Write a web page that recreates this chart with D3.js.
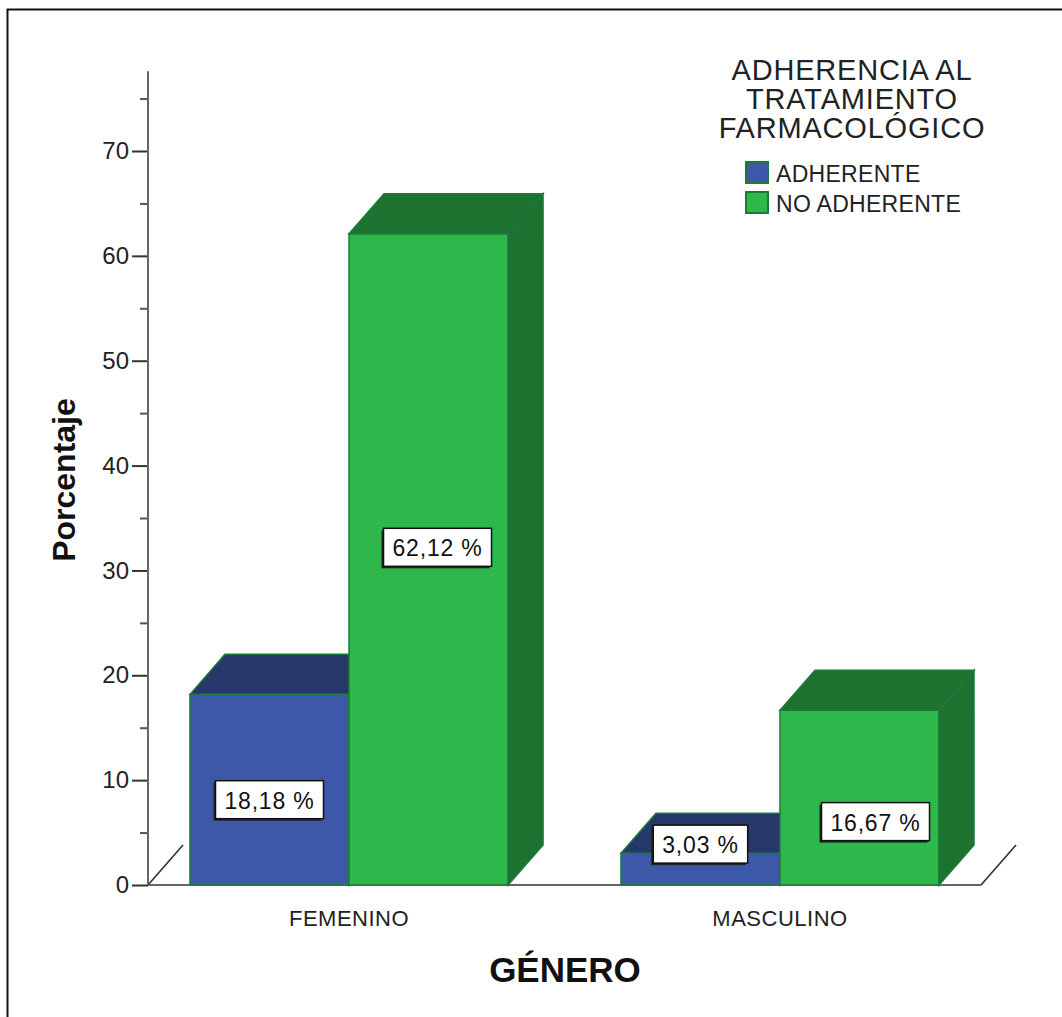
<!DOCTYPE html>
<html>
<head>
<meta charset="utf-8">
<script src="https://cdn.jsdelivr.net/npm/d3@7"></script>
<style>
  html, body { margin: 0; padding: 0; background: #fff; }
  svg { display: block; }
  text { font-family: "Liberation Sans", Arial, sans-serif; }
</style>
</head>
<body>
<svg id="chart" width="1062" height="1017"></svg>
<script>
// Data: percentage of patients by gender and adherence to pharmacological treatment
const categories = ["FEMENINO", "MASCULINO"];
const series = ["ADHERENTE", "NO ADHERENTE"];
const adherente = [18.18, 3.03];
const noAdherente = [62.12, 16.67];
const yTicks = [0, 10, 20, 30, 40, 50, 60, 70];
const yMinorTicks = [5, 15, 25, 35, 45, 55, 65, 75];
const legendTitle = ["ADHERENCIA AL", "TRATAMIENTO", "FARMACOLÓGICO"];
const xTitle = "GÉNERO";
const yTitle = "Porcentaje";

const values = [adherente, noAdherente];

// Colours for front / top / side faces of each series
const faceFront = ["#3e58a9", "#2eb84b"];
const faceTop = ["#26376a", "#1e7230"];
const faceSide = ["#26376a", "#1e7230"];
const edge = "#1c7a3c";

// Label nudges so the boxes sit where the chart places them
const labelNudge = [[[0, 10], [9, -12]], [[0, -25], [16, 24]]];

const svg = d3.select("#chart");

// Outer frame (top and left edges)
svg.append("path")
  .attr("d", "M7.5,1017 L7.5,9.5 L1062,9.5")
  .attr("fill", "none").attr("stroke", "#111").attr("stroke-width", 2);

const x0 = 148, x1 = 981, yBase = 885;
const depthX = 35, depthY = -40;

const y = d3.scaleLinear().domain([0, 70]).range([yBase, 151]);
const xCat = d3.scaleBand().domain(categories).range([x0, x1])
  .paddingInner(0.262).paddingOuter(0.0974);
const xSer = d3.scaleBand().domain(series).range([0, xCat.bandwidth()]);

// Floor: front edge and the two depth edges
const floor = svg.append("g").attr("stroke", "#333").attr("stroke-width", 1.6).attr("fill", "none");
floor.append("line").attr("x1", x0).attr("y1", yBase).attr("x2", x1).attr("y2", yBase);
floor.append("line").attr("x1", x0).attr("y1", yBase).attr("x2", x0 + depthX).attr("y2", yBase + depthY);
floor.append("line").attr("x1", x1).attr("y1", yBase).attr("x2", x1 + depthX).attr("y2", yBase + depthY);

// Y axis
const axisG = svg.append("g").attr("transform", `translate(${x0},0)`);
axisG.call(d3.axisLeft(y).tickValues(yTicks).tickSize(16).tickPadding(3).tickFormat(d3.format("d")));
axisG.select(".domain").remove();
axisG.selectAll(".tick line").attr("stroke", "#333").attr("stroke-width", 2);
axisG.selectAll(".tick text").attr("font-size", 24).attr("fill", "#222")
  .style("font-family", "'Liberation Sans', Arial, sans-serif");
const minorG = svg.append("g").attr("transform", `translate(${x0},0)`);
minorG.call(d3.axisLeft(y).tickValues(yMinorTicks).tickSize(8).tickFormat(""));
minorG.select(".domain").remove();
minorG.selectAll(".tick line").attr("stroke", "#555").attr("stroke-width", 2);
svg.append("line").attr("x1", x0).attr("x2", x0).attr("y1", yBase).attr("y2", y(77.6))
  .attr("stroke", "#666").attr("stroke-width", 2);

// 3D bars
const barsG = svg.append("g");
const labels = [];
categories.forEach((cat, ci) => {
  series.forEach((ser, si) => {
    const v = values[si][ci];
    const xl = xCat(cat) + xSer(ser);
    const xr = xl + xSer.bandwidth();
    const yt = y(v);
    const g = barsG.append("g");
    // front face
    g.append("path")
      .attr("d", `M${xl},${yBase} L${xl},${yt} L${xr},${yt} L${xr},${yBase} Z`)
      .attr("fill", faceFront[si]).attr("stroke", edge).attr("stroke-width", 1.5);
    // top face
    g.append("path")
      .attr("d", `M${xl},${yt} L${xl + depthX},${yt + depthY} L${xr + depthX},${yt + depthY} L${xr},${yt} Z`)
      .attr("fill", faceTop[si]).attr("stroke", edge).attr("stroke-width", 1.5);
    // side face
    g.append("path")
      .attr("d", `M${xr},${yBase} L${xr},${yt} L${xr + depthX},${yt + depthY} L${xr + depthX},${yBase + depthY} Z`)
      .attr("fill", faceSide[si]).attr("stroke", edge).attr("stroke-width", 1.5);
    const nudge = labelNudge[ci][si];
    labels.push({
      text: d3.format(".2f")(v).replace(".", ",") + " %",
      cx: (xl + xr) / 2 + nudge[0],
      cy: (yt + yBase) / 2 + nudge[1]
    });
  });
});

// Value labels in white boxes
const labG = svg.append("g");
labels.forEach(d => {
  const g = labG.append("g");
  const t = g.append("text").attr("x", d.cx).attr("y", d.cy + 1)
    .attr("text-anchor", "middle").attr("dominant-baseline", "central")
    .attr("font-size", 23).attr("letter-spacing", 0.8).attr("fill", "#111").text(d.text);
  const bb = t.node().getBBox();
  const w = bb.width + 18, h = 38;
  g.insert("rect", "text").attr("x", d.cx - w / 2 - 2).attr("y", d.cy - h / 2 + 2)
    .attr("width", w).attr("height", h).attr("fill", "#222");
  g.insert("rect", "text").attr("x", d.cx - w / 2).attr("y", d.cy - h / 2)
    .attr("width", w).attr("height", h).attr("fill", "#fff")
    .attr("stroke", "#111").attr("stroke-width", 1.5);
});

// Category labels
svg.append("g").selectAll("text").data(categories).join("text")
  .attr("x", d => xCat(d) + xCat.bandwidth() / 2)
  .attr("y", 926)
  .attr("text-anchor", "middle").attr("font-size", 22).attr("letter-spacing", 0.5).attr("fill", "#222")
  .text(d => d);

// Axis titles
svg.append("text").attr("x", 565).attr("y", 982).attr("text-anchor", "middle")
  .attr("font-size", 35).attr("font-weight", "bold").attr("fill", "#111").text(xTitle);
svg.append("text").attr("transform", "translate(75,480) rotate(-90)")
  .attr("text-anchor", "middle").attr("font-size", 32).attr("font-weight", "bold")
  .attr("fill", "#111").text(yTitle);

// Legend
const leg = svg.append("g");
leg.selectAll("text.title").data(legendTitle).join("text").attr("class", "title")
  .attr("x", 852).attr("y", (d, i) => 80 + i * 29)
  .attr("text-anchor", "middle").attr("font-size", 29).attr("letter-spacing", 0.8).attr("fill", "#222")
  .text(d => d);
series.forEach((s, i) => {
  leg.append("rect").attr("x", 746).attr("y", 162 + i * 30).attr("width", 22).attr("height", 21)
    .attr("fill", faceFront[i]).attr("stroke", edge).attr("stroke-width", 2);
  leg.append("text").attr("x", 776).attr("y", 182 + i * 30).attr("font-size", 23)
    .attr("letter-spacing", 0.3).attr("fill", "#222").text(s);
});
</script>
</body>
</html>
